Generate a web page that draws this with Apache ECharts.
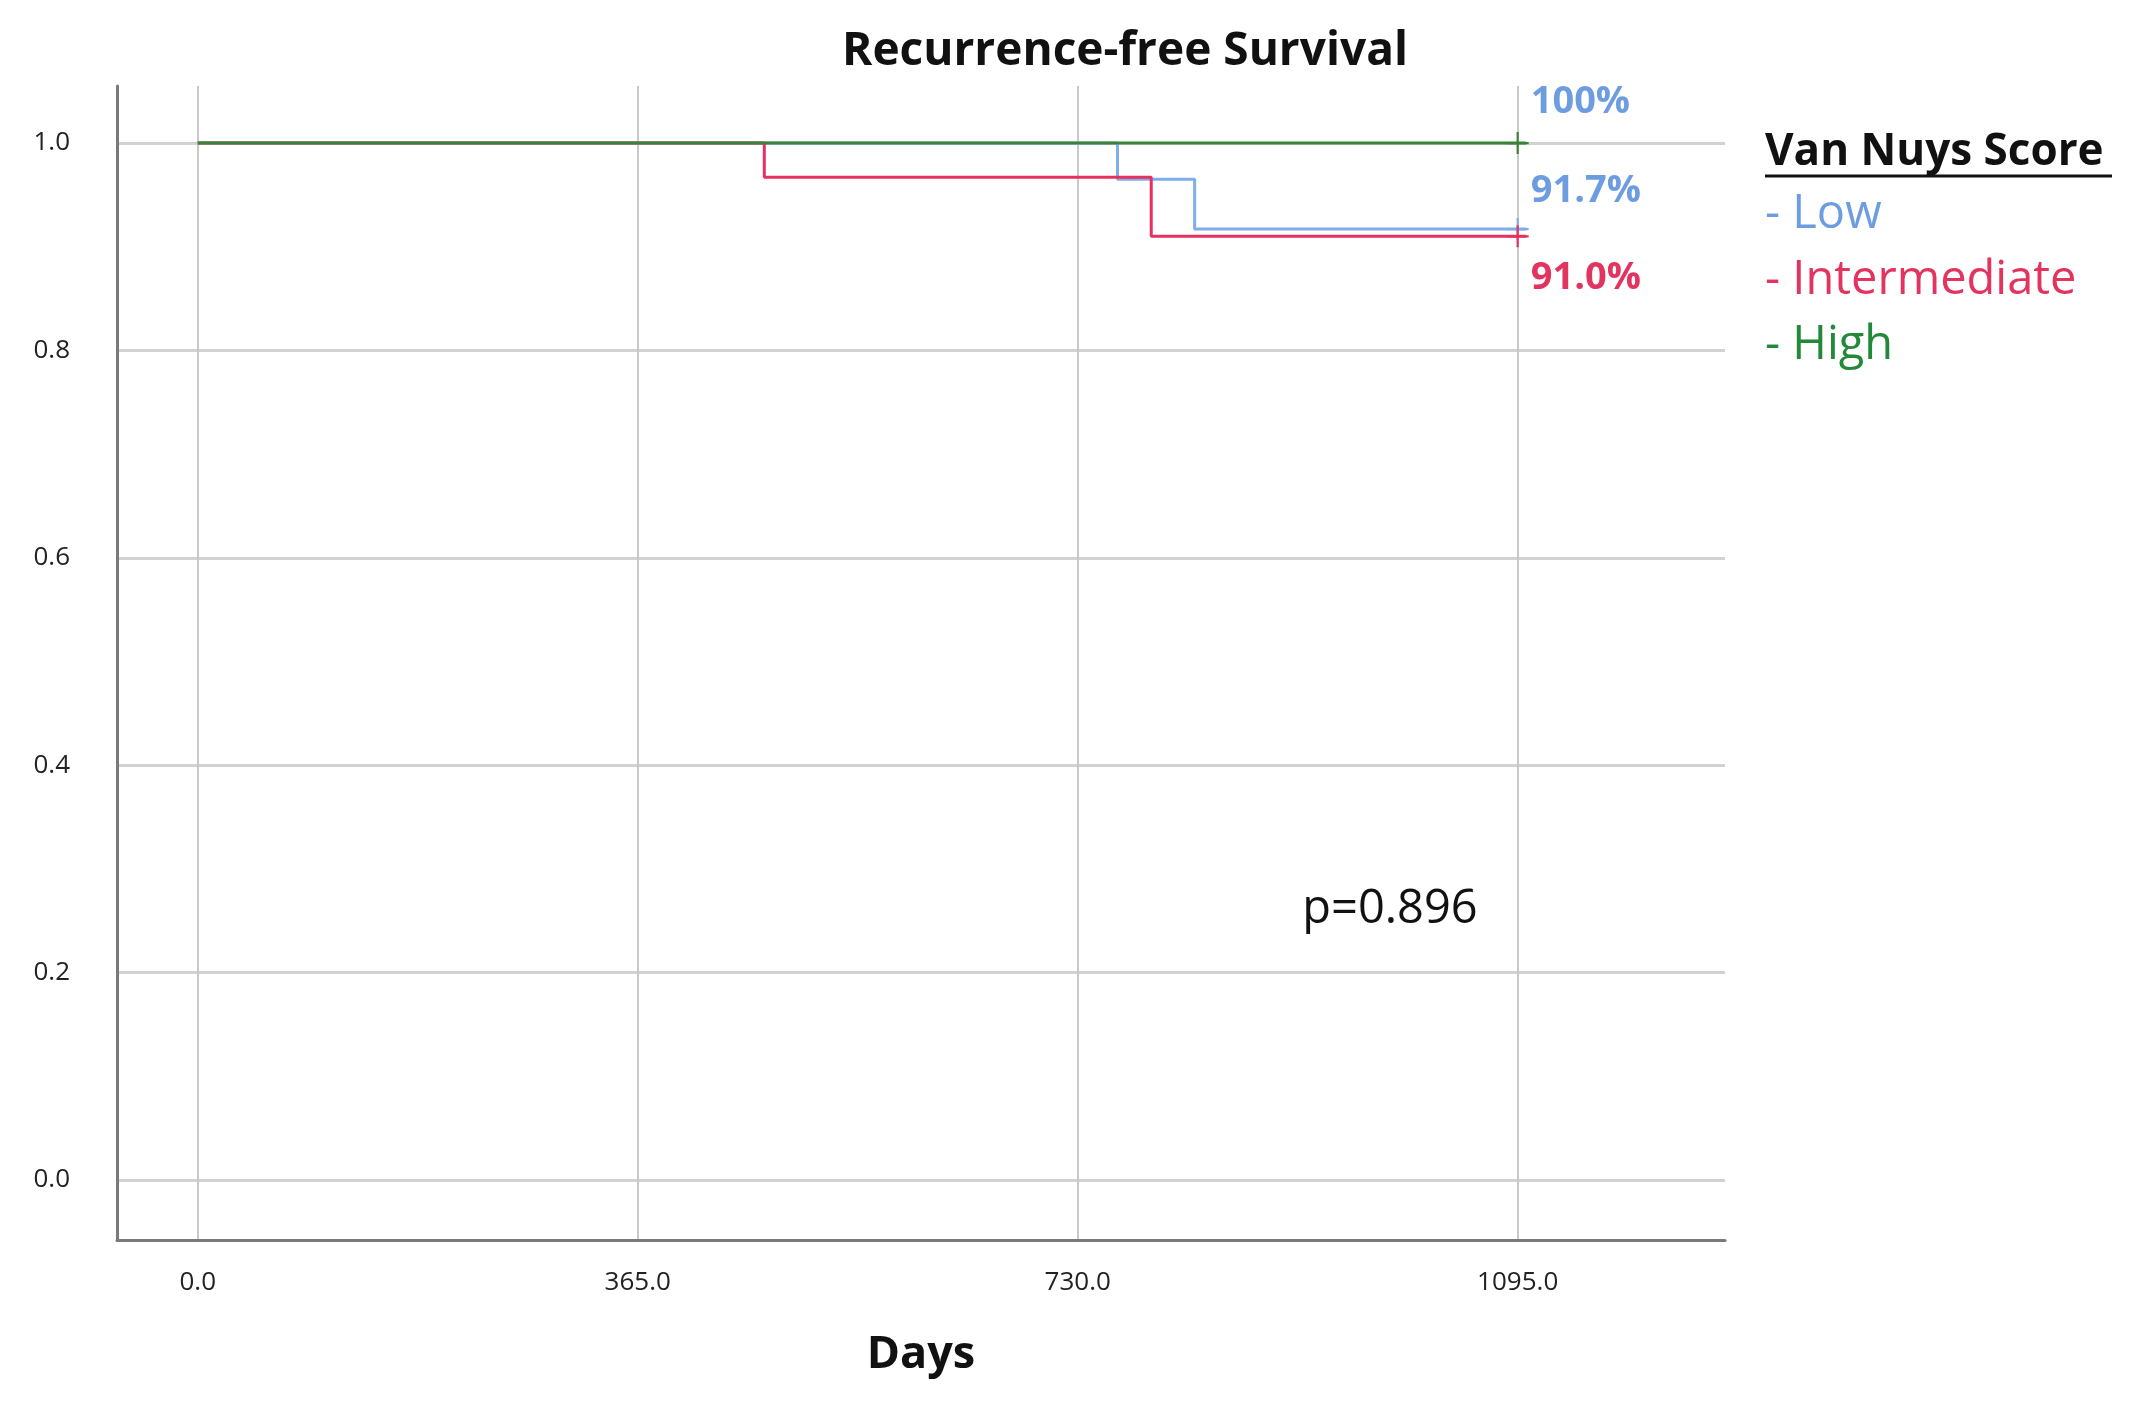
<!DOCTYPE html>
<html>
<head>
<meta charset="utf-8">
<script src="https://cdn.jsdelivr.net/npm/echarts@6/dist/echarts.min.js"></script>
<style>
html,body{margin:0;padding:0;background:#fff;}
#chart{width:2139px;height:1402px;}
</style>
</head>
<body>
<div id="chart"></div>
<script>
// ---- data ----
const groupNames = ['Low', 'Intermediate', 'High'];
const lowDays = [0, 763, 827, 1102];
const lowSurv = [1.0, 0.965, 0.917, 0.917];
const intDays = [0, 470, 791, 1102];
const intSurv = [1.0, 0.967, 0.910, 0.910];
const highDays = [0, 1102];
const highSurv = [1.0, 1.0];
const censorDays = [1095, 1095, 1095];          // Low, Intermediate, High
const censorSurv = [0.917, 0.910, 1.0];
const endLabels = ['91.7%', '91.0%', '100%'];
const xTicks = [0, 365, 730, 1095];
const yTicks = [0, 0.2, 0.4, 0.6, 0.8, 1.0];
const titleText = 'Recurrence-free Survival';
const pValueText = 'p=0.896';
const legendTitle = 'Van Nuys Score';
const xName = 'Days';

// ---- styles ----
const FONT = 'Open Sans';
const lineColors = { Low: '#7eaee8', Intermediate: '#e8305f', High: '#3b833b' };
const textColors = { Low: '#6d9de0', Intermediate: '#e3335f', High: '#23883a' };

function pairs(xs, ys) { return xs.map((x, i) => [x, ys[i]]); }

const chart = echarts.init(document.getElementById('chart'), null, { renderer: 'canvas' });

const crossPath = 'path://M9,0H11V9H20V11H11V20H9V11H0V9H9Z';

function lineSeries(name, xs, ys, z) {
  return {
    name: name, type: 'line', step: 'end', symbol: 'none', z: z,
    data: pairs(xs, ys),
    lineStyle: { color: lineColors[name], width: 3 },
    itemStyle: { color: lineColors[name] },
    emphasis: { disabled: true }
  };
}

function censorSeries(idx, name, labelColor, offsetY) {
  return {
    name: name + ' censored', type: 'scatter', symbol: crossPath, symbolSize: 22, z: 10,
    data: [[censorDays[idx], censorSurv[idx]]],
    itemStyle: { color: lineColors[name], opacity: 1 },
    label: {
      show: true, position: 'right', distance: 2, offset: [0, offsetY],
      formatter: endLabels[idx],
      color: labelColor, fontFamily: FONT, fontWeight: 'bold', fontSize: 38
    },
    emphasis: { disabled: true }
  };
}

const option = {
  animation: false,
  backgroundColor: '#ffffff',
  title: [
    { text: titleText, left: 1125, top: 27, textAlign: 'center', padding: 0,
      textStyle: { fontFamily: FONT, fontWeight: 'bold', fontSize: 46, lineHeight: 50, color: '#111' } },
    { text: pValueText, left: 1390, top: 885, textAlign: 'center', padding: 0,
      textStyle: { fontFamily: FONT, fontWeight: 'normal', fontSize: 47, lineHeight: 50, color: '#111' } },
    { text: legendTitle, left: 1765, top: 127, padding: 0,
      textStyle: { fontFamily: FONT, fontWeight: 'bold', fontSize: 44, lineHeight: 50, color: '#111' } }
  ],
  graphic: [
    { type: 'line', shape: { x1: 1765, y1: 176, x2: 2112, y2: 176 },
      style: { stroke: '#111', lineWidth: 3 }, silent: true }
  ],
  legend: {
    orient: 'vertical', left: 1760, top: 190, padding: 0,
    icon: 'none', itemWidth: 0, itemHeight: 10, itemGap: 15.5,
    selectedMode: false,
    formatter: name => '- ' + name,
    textStyle: { fontFamily: FONT, fontSize: 47, lineHeight: 50 },
    data: groupNames.map(n => ({ name: n, textStyle: { color: textColors[n] } }))
  },
  grid: { left: 117, right: 414, top: 86, bottom: 162, containLabel: false },
  xAxis: {
    type: 'value', min: -67, max: 1267,
    name: xName, nameLocation: 'middle', nameGap: 90,
    nameTextStyle: { fontFamily: FONT, fontWeight: 'bold', fontSize: 45, lineHeight: 50, color: '#111' },
    axisLine: { show: true, onZero: false, lineStyle: { color: '#7a7a7a', width: 3 } },
    axisTick: { show: false, customValues: xTicks },
    axisLabel: { customValues: xTicks, margin: 30, formatter: v => v.toFixed(1),
      fontFamily: FONT, fontSize: 26, color: '#222' },
    splitLine: { show: true, lineStyle: { color: '#c9c9c9', width: 2 } }
  },
  yAxis: {
    type: 'value', min: -0.058, max: 1.055,
    axisLine: { show: true, onZero: false, lineStyle: { color: '#7a7a7a', width: 3 } },
    axisTick: { show: false, customValues: yTicks },
    axisLabel: { customValues: yTicks, margin: 47, formatter: v => v.toFixed(1),
      fontFamily: FONT, fontSize: 26, color: '#222' },
    splitLine: { show: true, lineStyle: { color: '#d2d2d2', width: 3 } }
  },
  series: [
    lineSeries('Low', lowDays, lowSurv, 3),
    lineSeries('Intermediate', intDays, intSurv, 4),
    lineSeries('High', highDays, highSurv, 5),
    censorSeries(0, 'Low', textColors.Low, -38),
    censorSeries(1, 'Intermediate', textColors.Intermediate, 42),
    censorSeries(2, 'High', textColors.Low, -41)
  ]
};

chart.setOption(option);
</script>
</body>
</html>
